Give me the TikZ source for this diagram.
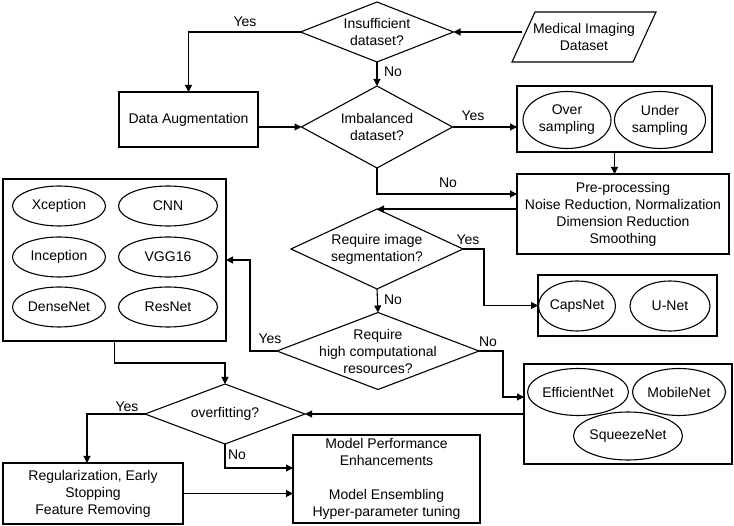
\documentclass[tikz,border=0pt]{standalone}
\usepackage{fontspec}
\setmainfont{Liberation Sans}
\usetikzlibrary{shapes.geometric,arrows.meta}
\begin{document}
\begin{tikzpicture}[x=1pt,y=-1pt,
  every node/.style={font=\fontsize{14}{17}\selectfont, align=center, inner sep=0pt, outer sep=0pt},
  box/.style={draw, line width=1.1pt},
  ell/.style={draw, ellipse, line width=1.1pt},
  dia/.style={draw, diamond, line width=1.1pt},
  arr/.style={draw, line width=1.1pt, -{Triangle[length=7pt,width=7pt]}},
  lbl/.style={anchor=center}
]
\useasboundingbox (0,0) rectangle (734,526);

% decision diamonds
\node[dia, minimum width=153, minimum height=60] (d1) at (377,32) {};
\node (t1) at (d1) {Insufficient\\dataset?};
\node[dia, minimum width=151, minimum height=82] (d2) at (377,127) {};
\node (t2) at (d2) {Imbalanced\\dataset?};
\node[dia, minimum width=172, minimum height=80] (d3) at (377,249) {};
\node (t3) at (d3) {Require image\\segmentation?};
\node[dia, minimum width=202, minimum height=77] (d4) at (378,351) {};
\node (t4) at (d4) {Require\\high computational\\resources?};
\node[dia, minimum width=160, minimum height=60] (d5) at (225,414) {};
\node (t5) at (d5) {overfitting?};

% input parallelogram
\node (md) at (584,37) {Medical Imaging\\Dataset};
\coordinate (mdA) at (535,12);
\coordinate (mdB) at (656,12);
\coordinate (mdC) at (633,62);
\coordinate (mdD) at (512,62);
\coordinate (mdL) at (522,32);
\draw[line width=1.1pt] (mdA) -- (mdB) -- (mdC) -- (mdD) -- cycle;

% boxes
\node[box, minimum width=139, minimum height=55] (aug) at (188.5,119.5) {Data Augmentation};
\node[box, minimum width=195, minimum height=66] (os) at (614.5,119) {};
\node[ell, minimum width=88, minimum height=57] (over) at (567,120) {Over\\sampling};
\node[ell, minimum width=91, minimum height=57] (under) at (660,120) {Under\\sampling};

\node[box, minimum width=212, minimum height=80] (pre) at (623,214)
  {Pre-processing\\Noise Reduction, Normalization\\Dimension Reduction\\Smoothing};

\node[box, minimum width=179, minimum height=61] (caps) at (627.5,305.5) {};
\node[ell, minimum width=67, minimum height=50] (capsnet) at (577,306) {CapsNet};
\node[ell, minimum width=80, minimum height=50] (unet) at (670,306) {U-Net};

\node[box, minimum width=223, minimum height=162] (mods) at (114.5,260) {};
\node[ell, minimum width=93, minimum height=40] (xcep) at (59,206) {Xception};
\node[ell, minimum width=99, minimum height=40] (cnn) at (168,206) {CNN};
\node[ell, minimum width=93, minimum height=40] (incep) at (59,257) {Inception};
\node[ell, minimum width=99, minimum height=40] (vgg) at (168,257) {VGG16};
\node[ell, minimum width=93, minimum height=40] (dense) at (59,307) {DenseNet};
\node[ell, minimum width=99, minimum height=40] (res) at (168,307) {ResNet};

\node[box, minimum width=208, minimum height=100] (eff) at (628,414) {};
\node[ell, minimum width=100, minimum height=47] (effnet) at (578,392) {EfficientNet};
\node[ell, minimum width=93, minimum height=47] (mobile) at (679,392) {MobileNet};
\node[ell, minimum width=98, minimum height=48] (squeeze) at (628,436) {SqueezeNet};

\node[box, minimum width=180, minimum height=61] (reg) at (93,493.5)
  {Regularization, Early\\Stopping\\Feature Removing};
\node[box, minimum width=187, minimum height=88] (model) at (386.5,479)
  {Model Performance\\Enhancements\\[17pt]Model Ensembling\\Hyper-parameter tuning};

% connectors
\draw[arr] (mdL) -- (d1.east);
\draw[arr] (d1.west) -| (aug.north);
\draw[arr] (d1.south) -- (d2.north);
\draw[arr] (aug.east |- d2.west) -- (d2.west);
\draw[arr] (d2.east) -- (os.west |- d2.east);
\draw[arr] (os.south) -- (os.south |- pre.north);
\draw[arr] (d2.south) |- ([yshift=20pt]pre.west);
\draw[arr] (pre.west |- d3.north) -- (d3.north);
\draw[arr] (d3.east) -- ++(21,0) |- (caps.west);
\draw[arr] (d3.south) -- (d4.north);
\draw[arr] (d4.west) -- ++(-27,0) |- (mods.east);
\draw[arr] (d4.east) -- ++(24,0) |- ([yshift=17pt]eff.west);
\draw[arr] (eff.west) -- (d5.east);
\draw[arr] (mods.south) -- ++(0,22) -| (d5.north);
\draw[arr] (d5.west) -| ([xshift=-6pt]reg.north);
\draw[arr] (d5.south) |- ([yshift=11pt]model.west);
\draw[arr] (reg.east) -- (reg.east -| model.west);

% labels
\node[lbl] (y1) at (245,22) {Yes};
\node[lbl] (n1) at (393,72) {No};
\node[lbl] (y2) at (473,116) {Yes};
\node[lbl] (n2) at (448,183) {No};
\node[lbl] (y3) at (468,240) {Yes};
\node[lbl] (n3) at (393,300) {No};
\node[lbl] (n4) at (488,342) {No};
\node[lbl] (y4) at (270,339) {Yes};
\node[lbl] (y5) at (127,407) {Yes};
\node[lbl] (n5) at (237,455) {No};
\end{tikzpicture}
\end{document}
